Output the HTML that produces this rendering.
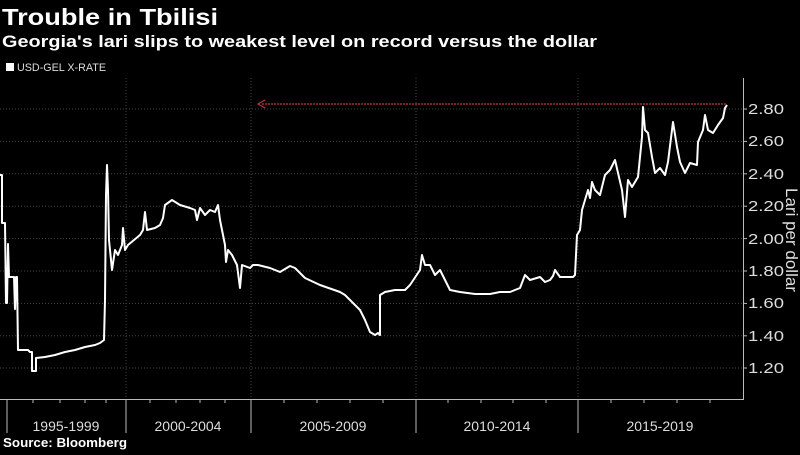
<!DOCTYPE html>
<html><head><meta charset="utf-8"><style>
body{margin:0;background:#000;width:800px;height:450px;overflow:hidden;font-family:"Liberation Sans",sans-serif;}
</style></head><body>
<svg width="800" height="450" viewBox="0 0 800 450" xmlns="http://www.w3.org/2000/svg" font-family="Liberation Sans, sans-serif">
<rect width="800" height="450" fill="#000"/>
<text x="2" y="25" fill="#fff" font-size="23" font-weight="bold" textLength="216" lengthAdjust="spacingAndGlyphs">Trouble in Tbilisi</text>
<text x="2" y="47" fill="#fff" font-size="17" font-weight="bold" textLength="595" lengthAdjust="spacingAndGlyphs">Georgia's lari slips to weakest level on record versus the dollar</text>
<rect x="6" y="63" width="8" height="8" fill="#fff"/>
<text x="17" y="71" fill="#ddd" font-size="11" textLength="89" lengthAdjust="spacingAndGlyphs">USD-GEL X-RATE</text>
<g stroke="#444" stroke-width="1" stroke-dasharray="1,2">
<line x1="0" x2="743" y1="109" y2="109"/><line x1="0" x2="743" y1="141.4" y2="141.4"/>
<line x1="0" x2="743" y1="173.8" y2="173.8"/><line x1="0" x2="743" y1="206.2" y2="206.2"/>
<line x1="0" x2="743" y1="238.6" y2="238.6"/><line x1="0" x2="743" y1="271" y2="271"/>
<line x1="0" x2="743" y1="303.4" y2="303.4"/><line x1="0" x2="743" y1="335.8" y2="335.8"/>
<line x1="0" x2="743" y1="368" y2="368"/>
<line x1="126" x2="126" y1="78" y2="399"/><line x1="251" x2="251" y1="78" y2="399"/>
<line x1="416" x2="416" y1="78" y2="399"/><line x1="578" x2="578" y1="78" y2="399"/>
</g>
<g stroke="#bbb" stroke-width="1">
<line x1="0" x2="743" y1="399.5" y2="399.5"/>
<line x1="743.5" x2="743.5" y1="78" y2="400"/>
<line x1="7" x2="7" y1="399" y2="433"/><line x1="126" x2="126" y1="399" y2="433"/>
<line x1="251" x2="251" y1="399" y2="433"/><line x1="416" x2="416" y1="399" y2="433"/>
<line x1="578" x2="578" y1="399" y2="433"/>
<line x1="33" x2="33" y1="399" y2="403"/><line x1="60" x2="60" y1="399" y2="403"/><line x1="85" x2="85" y1="399" y2="403"/><line x1="106" x2="106" y1="399" y2="403"/>
<line x1="150" x2="150" y1="399" y2="403"/><line x1="176" x2="176" y1="399" y2="403"/><line x1="200" x2="200" y1="399" y2="403"/><line x1="225" x2="225" y1="399" y2="403"/>
<line x1="284" x2="284" y1="399" y2="403"/><line x1="317" x2="317" y1="399" y2="403"/><line x1="350" x2="350" y1="399" y2="403"/><line x1="383" x2="383" y1="399" y2="403"/>
<line x1="448" x2="448" y1="399" y2="403"/><line x1="481" x2="481" y1="399" y2="403"/><line x1="513" x2="513" y1="399" y2="403"/><line x1="546" x2="546" y1="399" y2="403"/>
<line x1="611" x2="611" y1="399" y2="403"/><line x1="644" x2="644" y1="399" y2="403"/><line x1="677" x2="677" y1="399" y2="403"/><line x1="710" x2="710" y1="399" y2="403"/>
<line x1="743" x2="747" y1="109" y2="109"/><line x1="743" x2="747" y1="141.4" y2="141.4"/><line x1="743" x2="747" y1="173.8" y2="173.8"/><line x1="743" x2="747" y1="206.2" y2="206.2"/><line x1="743" x2="747" y1="238.6" y2="238.6"/><line x1="743" x2="747" y1="271" y2="271"/><line x1="743" x2="747" y1="303.4" y2="303.4"/><line x1="743" x2="747" y1="335.8" y2="335.8"/><line x1="743" x2="747" y1="368" y2="368"/>
</g>
<g fill="#ddd" font-size="15">
<text x="748" y="114" textLength="36" lengthAdjust="spacingAndGlyphs">2.80</text><text x="748" y="146" textLength="36" lengthAdjust="spacingAndGlyphs">2.60</text><text x="748" y="179" textLength="36" lengthAdjust="spacingAndGlyphs">2.40</text><text x="748" y="211" textLength="36" lengthAdjust="spacingAndGlyphs">2.20</text><text x="748" y="244" textLength="36" lengthAdjust="spacingAndGlyphs">2.00</text><text x="748" y="276" textLength="36" lengthAdjust="spacingAndGlyphs">1.80</text><text x="748" y="308" textLength="36" lengthAdjust="spacingAndGlyphs">1.60</text><text x="748" y="341" textLength="36" lengthAdjust="spacingAndGlyphs">1.40</text><text x="748" y="373" textLength="36" lengthAdjust="spacingAndGlyphs">1.20</text>
</g>
<text transform="translate(786,240) rotate(90)" text-anchor="middle" fill="#ddd" font-size="17">Lari per dollar</text>
<g fill="#ddd" font-size="14" text-anchor="middle">
<text x="66" y="431">1995-1999</text><text x="188" y="431">2000-2004</text><text x="333" y="431">2005-2009</text><text x="497" y="431">2010-2014</text><text x="660" y="431">2015-2019</text>
</g>
<text x="3" y="447" fill="#fff" font-size="12.5" font-weight="bold" textLength="124" lengthAdjust="spacingAndGlyphs">Source: Bloomberg</text>
<line x1="262" x2="727" y1="104" y2="104" stroke="#c0343a" stroke-width="1.2" stroke-dasharray="2,1"/>
<path d="M265,100 L258,104 L265,108" fill="none" stroke="#c0343a" stroke-width="1.2"/>
<polyline fill="none" stroke="#fff" stroke-width="2" stroke-linejoin="round" points="0,175 2,175 2,223 5,223 6,303 7,303 8,244 9,277 14,277 15,309 16,277 17,277 18,350 28,350 30,352 32,352 32,371 36,371 36,358 45,357 55,355 65,352 75,350 85,347 95,345 100,343 104,340 105,300 106,195 107,165 108,190 109,240 112,270 115,250 118,255 122,245 123,228 125,250 128,245 140,235 143,230 145,212 147,230 155,228 160,225 163,218 165,205 172,200 180,205 190,208 195,210 197,220 200,208 205,215 210,210 215,212 218,205 220,220 222,230 225,245 226,262 228,250 232,255 237,265 240,288 242,265 250,268 253,265 258,265 270,268 280,272 290,266 295,268 305,278 320,285 340,292 345,295 350,300 355,305 360,310 365,320 370,332 375,335 378,333 380,335 380,295 385,292 395,290 405,290 410,285 420,270 422,255 425,265 430,265 435,275 440,270 445,280 450,290 460,292 475,294 490,294 500,292 510,292 520,288 525,275 530,280 540,277 545,282 550,280 553,276 555,270 560,277 573,277 575,275 577,235 580,230 582,210 585,200 588,190 590,198 592,182 595,190 600,195 605,175 610,170 615,160 622,190 625,217 628,180 632,187 638,177 642,137 643,107 645,130 648,133 652,157 655,173 660,168 665,175 668,162 673,122 677,147 680,162 685,173 690,163 697,165 698,142 703,130 705,115 708,130 713,133 718,125 723,118 725,108 727,105"/>
</svg>
</body></html>
